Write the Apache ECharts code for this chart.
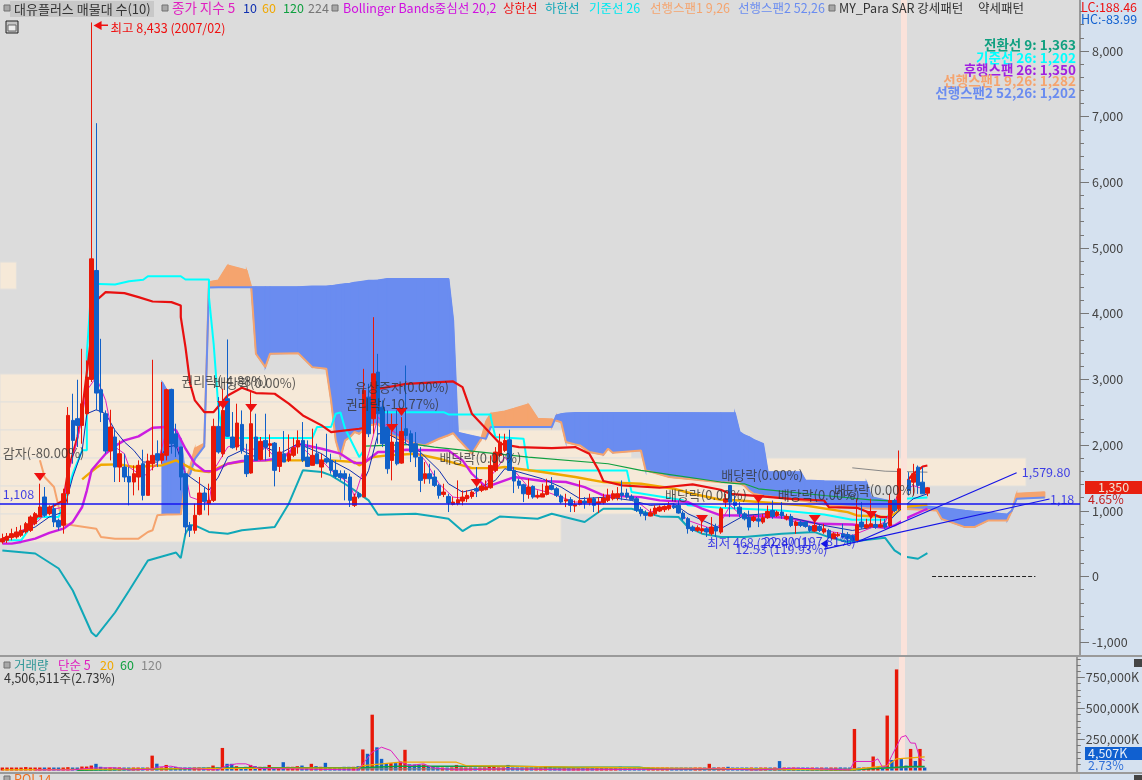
<!DOCTYPE html>
<html><head><meta charset="utf-8">
<style>html,body{margin:0;padding:0;background:#dcdcdc}#c{width:1142px;height:780px}</style>
<script src="https://cdn.jsdelivr.net/npm/echarts@6/dist/echarts.min.js"></script>
</head><body><div id="c"></div>
<script>
const categoryCount = 230;
const categories = Array.from({length: categoryCount}, (_, k) => String(k));

// [open, close, low, high]
const ohlc = [
[526,576,500,652],[551,612,510,662],[592,652,551,728],[602,678,576,754],[627,703,602,779],[678,804,652,830],[703,906,678,931],[804,957,779,982],[906,1058,906,1413],[1210,931,906,1362],
[957,1058,931,1083],[1033,830,754,1109],[855,754,703,881],[779,1261,652,1337],[1261,2452,1109,2579],[2376,2072,1717,2782],[2402,2300,1971,2995],[2300,2630,2021,3466],[2478,3035,2452,3289],[3000,4835,2960,8433],
[4658,2792,2528,6900],[2843,2503,2351,3618],[2478,1910,1870,2528],[1910,2275,1768,2538],[2123,1666,1438,2250],[1666,1869,1438,2072],[1666,1514,1438,1869],[1524,1438,1083,1666],[1438,1565,1235,1692],[1514,1692,1312,1768],
[1717,1235,1159,1930],[1235,1758,1235,1869],[1717,1844,1616,3299],[1869,1768,1666,2072],[1768,1869,1717,2959],[1844,2843,1768,2858],[2848,2021,1869,2858],[2173,1971,1818,2326],[1971,1514,1312,1971],[1565,754,627,1565],
[779,703,602,830],[703,931,652,1109],[946,1271,931,1514],[1271,1144,1007,1362],[1109,1159,931,1413],[1159,2285,1134,2402],[2285,1895,1869,2731],[1869,2528,1818,2858],[2706,2133,2123,3608],[2123,1961,1945,2503],
[1971,2336,1920,2630],[2315,1920,1869,2528],[1844,1565,1514,2021],[1575,2326,1565,2807],[2123,1768,1768,2478],[1783,2057,1768,2123],[2072,1971,1768,2478],[1996,2021,1818,2163],[2031,1616,1372,2047],[1676,1895,1590,1971],
[1869,1742,1742,2214],[1768,1869,1742,2163],[1844,1960,1818,2113],[1971,2072,1869,2224],[2072,1768,1742,2351],[1818,1676,1666,2072],[1692,1844,1692,2250],[1869,1717,1717,2021],[1666,1768,1504,1869],[1793,1742,1717,2173],
[1768,1616,1565,1869],[1616,1524,1489,1768],[1565,1504,1464,1616],[1565,1489,1159,1616],[1514,1159,1058,1565],[1083,1210,1058,1261],[1261,1210,1185,1286],[1210,2832,1210,3161],[2730,2173,2122,2933],[2401,3085,2173,3947],
[3111,2477,2020,3389],[2578,2021,1970,2680],[2274,1640,1564,2528],[1767,2046,1463,2477],[2046,1716,1691,2528],[1726,2208,1716,2426],[2249,2147,2021,3212],[2173,1894,1742,2224],[2021,1818,1666,2198],[1818,1463,1285,1970],
[1488,1564,1412,1742],[1564,1488,1412,1716],[1514,1387,1362,1615],[1387,1235,1184,1412],[1250,1285,1209,1412],[1219,1118,981,1260],[1098,1133,1083,1209],[1108,1169,1083,1463],[1148,1209,1083,1311],[1184,1235,1133,1311],
[1219,1285,1184,1311],[1336,1301,1209,1666],[1311,1377,1285,1412],[1321,1361,1311,1463],[1351,1691,1336,1843],[1615,1894,1589,1970],[1843,2046,1818,2173],[1919,2071,1894,2173],[2081,1615,1615,2234],[1615,1453,1270,1666],
[1453,1387,1336,1488],[1397,1260,1133,1412],[1250,1361,1184,1488],[1372,1209,1184,1387],[1209,1235,1184,1311],[1209,1260,1209,1412],[1250,1377,1235,1488],[1387,1326,1311,1513],[1336,1235,1209,1361],[1225,1133,1108,1250],
[1149,1169,1057,1260],[1169,1083,981,1209],[1072,1093,981,1158],[1098,1158,1083,1463],[1148,1118,1032,1209],[1123,1184,1083,1260],[1184,1083,981,1209],[1108,1133,966,1209],[1123,1194,1098,1260],[1158,1235,1133,1336],
[1184,1260,1159,1311],[1199,1260,1159,1361],[1270,1235,1159,1463],[1270,1209,1184,1336],[1219,1169,1159,1250],[1184,1007,981,1209],[1022,956,915,1057],[966,931,855,1007],[920,971,915,1032],[956,1042,931,1083],
[996,1057,981,1083],[1017,1067,981,1083],[1032,1083,1007,1133],[1077,1047,1027,1118],[1083,966,956,1158],[966,880,855,996],[880,728,652,905],[753,702,677,778],[702,743,677,778],[692,728,652,905],
[728,677,601,753],[652,753,626,905],[763,692,601,804],[676,1031,650,1056],[1132,1183,1056,1259],[1385,1132,904,1385],[1132,1081,1030,1233],[1056,954,904,1132],[954,878,853,980],[904,752,701,1005],
[853,904,828,929],[878,843,752,1157],[828,894,802,954],[894,990,878,1081],[1005,914,878,1157],[929,980,904,1005],[980,929,878,1132],[878,914,853,954],[914,777,752,954],[777,828,650,853],
[828,777,752,853],[828,762,742,843],[762,701,676,777],[691,777,676,853],[762,701,676,787],[676,726,650,802],[701,600,574,726],[574,650,574,676],[620,640,600,676],[650,600,574,802],
[640,574,524,676],[625,549,524,640],[549,787,549,1183],[828,752,726,1132],[742,787,726,878],[762,802,752,1183],[792,752,726,954],[752,787,742,878],[812,752,726,878],[777,1157,752,1259],
[1157,1005,980,1183],[1031,1639,1005,1918],[1674,1411,1233,1690],[1462,1309,1233,1588],[1436,1563,1233,1715],[1664,1385,1258,1690],[1436,1258,1258,1664],[1269,1350,1223,1360]
];

// volume in millions of shares (1 = 1,000K)
const volumes = [
14,14,14,14,14,28,20,14,14,14,14,14,14,14,27,14,14,32,32,40,
54,30,15,15,22,25,15,15,15,15,15,15,120,55,25,45,25,30,20,20,
15,15,15,15,15,40,20,182,54,54,35,25,30,45,35,30,30,45,20,20,
67,30,30,35,40,25,54,35,30,62,13,13,20,30,30,30,35,170,135,450,
187,94,60,60,60,72,167,50,48,48,48,35,30,25,20,20,25,45,25,20,
20,15,15,25,35,35,25,25,45,25,20,20,15,15,15,18,35,30,20,20,
15,15,20,15,15,20,15,15,20,20,25,15,30,20,15,15,15,15,15,15,
15,20,20,15,15,15,15,15,15,15,15,54,25,25,25,30,20,20,15,15,
15,15,20,15,15,15,76,20,15,15,15,15,12,12,12,12,12,12,12,25,
12,12,335,20,15,20,113,27,15,443,85,815,93,40,174,77,174,4.507
];
const volumeColorFlips = [86,186,196,197];

// volume profile rows
const profileEnd  = [3,70,97,134,218,178,119];
const profileLow  = [4375,2656,2230,1803,1377,951,525];
const profileHigh = [4786,3082,2656,2230,1803,1377,951];

// Ichimoku leading spans, read at the same positions
const cloudI = [34,35,36,38,39,40,41,43,44,46,48,52,53,54,56,57,63,66,69,70,71,72,73,74,75,76,78,80,82,88,90,93,95,96,97,100,102,103,104,107,109,112,114,117,118,119,120,122,123,125,128,129,130,136,137,142,153,156,157,158,159,160,162,163,170,171,175,184,185,191,195,199,200,205,207,210,214,215,216,222];
const span1 = [940,945,945,947,1464,1666,1945,2021,4480,4506,4734,4658,4404,3390,3187,3390,3400,3187,3162,2680,2072,1818,2072,2120,2199,2173,2299,2325,2173,2021,1995,2097,2150,2183,2097,1868,2097,2350,2477,2512,2553,2619,2401,2391,2370,2350,2046,2010,1995,1894,1853,1945,1884,1919,1615,1514,1436,1430,1420,1385,1310,1259,1230,1220,1157,1150,1096,1040,1035,1031,1020,1005,878,752,752,853,853,1005,1259,1282];
const span2 = [2959,2832,2173,2100,1500,1560,1790,1980,4400,4404,4404,4404,4404,4404,4404,4404,4404,4414,4414,4420,4430,4440,4450,4455,4470,4480,4500,4506,4530,4530,4530,4530,4530,3900,2188,2140,2110,2097,2274,2274,2274,2274,2274,2274,2451,2470,2480,2487,2487,2487,2487,2487,2487,2487,2487,2487,2486,2486,2197,2150,2121,2080,2019,1588,1588,1461,1450,1436,1208,1120,1080,1050,1046,1000,985,970,944,1005,1183,1202];
const span1Early = [[8,1768],[9,1514],[11,1362],[12,1058],[13,805],[15,779],[20,728],[21,602],[24,576],[29,576],[31,678],[32,703],[33,931]];

const kijun = [[0,551],[4,551],[7,855],[8,906],[12,906],[13,1109],[15,1565],[17,1920],[18,1920],[18,3390],[19,4455],[24,4445],[27,4495],[30,4516],[31,4571],[38,4571],[39,4521],[44,4521],[44,4252],[45,3542],[46,2579],[47,2108],[66,2108],[67,2275],[70,2275],[71,2478],[72,2498],[73,2250],[76,1818],[77,1920],[77,2123],[78,2502],[94,2502],[95,2467],[104,2467],[104,2426],[105,2122],[111,2097],[112,1615],[133,1615],[134,1285],[145,1159],[146,1083],[153,1047],[166,1005],[175,944],[181,863],[188,863],[190,1056],[192,1183],[197,1202]];

const bbMiddle = [[0,500],[2,500],[4,526],[7,576],[10,663],[13,728],[15,830],[17,1058],[18,1312],[19,1616],[22,1869],[24,1986],[26,2072],[29,2133],[32,2265],[35,2275],[37,2224],[39,1945],[41,1717],[43,1606],[45,1600],[48,1717],[51,1758],[56,1768],[60,1818],[63,2021],[68,1945],[72,1869],[75,1727],[77,1727],[80,1895],[82,1894],[86,1930],[95,1919],[98,1767],[100,1564],[103,1361],[106,1438],[109,1514],[115,1453],[120,1438],[124,1361],[128,1235],[136,1209],[140,1159],[146,1133],[149,1032],[153,931],[158,929],[167,894],[174,802],[181,792],[188,742],[190,777],[193,904],[197,1031]];
const bbUpper = [[0,576],[4,652],[8,957],[13,1159],[14,1616],[16,2123],[17,2528],[19,3694],[20,4201],[22,4328],[26,4313],[29,4252],[32,4186],[36,4176],[38,4125],[38,3948],[39,3492],[40,2934],[41,2680],[43,2503],[45,2503],[48,2756],[51,2873],[54,2792],[58,2782],[61,2630],[64,2452],[68,2300],[70,2199],[76,2249],[77,2260],[79,2842],[86,2933],[96,2969],[98,2882],[100,2477],[103,2249],[106,2021],[110,1970],[117,1955],[122,1970],[125,1868],[127,1615],[128,1453],[132,1387],[140,1351],[147,1402],[153,1320],[155,1259],[161,1223],[168,1183],[175,1157],[176,1056],[182,1046],[187,904],[189,904],[190,1056],[191,1309],[194,1563],[196,1674],[197,1690]];
const bbLower = [[0,396],[7,350],[12,122],[15,-213],[19,-852],[20,-913],[24,-548],[27,-213],[31,244],[37,365],[38,280],[39,652],[40,779],[41,779],[44,678],[48,652],[51,703],[58,754],[61,1109],[64,1616],[68,1590],[70,1540],[74,1362],[78,1159],[80,941],[88,956],[92,915],[95,880],[98,692],[100,778],[103,794],[106,915],[114,880],[117,956],[124,829],[128,1032],[134,1032],[140,915],[144,905],[146,753],[149,652],[153,601],[158,600],[166,650],[173,676],[176,600],[180,524],[188,589],[190,397],[192,306],[195,270],[197,356]];

const ma5 = [[0,551],[7,804],[10,1007],[13,1058],[14,1565],[16,2072],[18,2832],[20,3035],[22,2680],[24,1971],[26,1869],[27,1666],[30,1514],[33,1717],[35,2224],[37,2072],[39,1565],[40,1210],[44,1109],[45,1616],[48,1971],[50,2021],[52,1920],[56,1971],[58,1818],[61,1869],[63,2021],[66,1818],[68,1768],[70,1616],[74,1413],[75,1210],[78,1869],[80,2426],[82,2274],[86,2071],[90,1767],[93,1412],[96,1209],[99,1184],[102,1336],[105,1615],[107,1818],[109,1615],[112,1361],[116,1285],[119,1209],[122,1133],[127,1133],[131,1235],[134,1209],[138,981],[143,1083],[146,854],[152,702],[155,1081],[158,894],[163,954],[169,828],[175,701],[181,625],[188,828],[191,1258],[194,1385],[197,1309]];
const ma10 = [[0,551],[7,754],[10,906],[13,982],[15,1514],[17,1920],[18,2478],[20,2538],[22,2478],[24,2224],[26,2047],[28,1920],[30,1742],[33,1742],[35,1971],[37,1996],[39,1565],[42,1413],[44,1312],[46,1514],[48,1818],[51,1920],[54,1818],[56,1971],[59,1869],[63,2021],[68,1869],[70,1768],[74,1616],[77,1464],[78,1616],[80,2173],[82,2173],[86,2021],[89,1894],[93,1615],[95,1412],[98,1285],[101,1336],[105,1463],[107,1640],[110,1590],[115,1488],[119,1361],[123,1184],[129,1209],[134,1158],[138,1083],[143,1108],[146,956],[153,728],[158,929],[164,965],[169,878],[175,777],[181,701],[188,777],[191,1005],[194,1183],[197,1259]];
const ma60 = [[17,1479],[18,1540],[20,1656],[21,1702],[25,1707],[28,1666],[34,1692],[37,1768],[39,1692],[41,1616],[44,1590],[48,1717],[53,1768],[63,1768],[70,1768],[75,1742],[76,1692],[79,1818],[82,1843],[88,1868],[93,1793],[100,1650],[105,1650],[107,1666],[115,1590],[122,1514],[128,1437],[136,1412],[143,1336],[147,1260],[153,1169],[157,1157],[171,1081],[180,980],[182,929],[189,904],[192,1056],[197,1096]];
const ma120 = [[77,1985],[88,2010],[92,1970],[112,1818],[129,1716],[136,1615],[153,1438],[157,1411],[158,1411],[161,1335],[175,1233],[185,1167],[190,1147]];
const ma224 = [[181,1654],[188,1603],[197,1588]];

const volMa5 = [[7,5],[15,5],[19,20],[24,22],[27,5],[32,10],[33,27],[36,35],[38,19],[46,5],[48,40],[50,54],[52,54],[54,27],[55,16],[76,5],[77,54],[79,148],[81,188],[83,161],[85,67],[87,40],[90,54],[92,21],[97,5],[108,13],[121,5],[152,13],[161,5],[166,13],[169,19],[181,5],[182,73],[186,73],[187,94],[188,27],[189,40],[190,121],[192,269],[193,282],[194,222],[195,220],[196,94],[197,81]];
const volMa20 = [[0,5],[32,13],[76,22],[77,40],[85,67],[97,67],[99,40],[122,27],[181,5],[189,40],[191,94],[197,110]];
const volMa60 = [[16,3],[52,22],[76,22],[85,35],[108,35],[121,27],[136,27],[139,14],[181,5],[194,32],[197,32]];
const volMa120 = [[76,13],[181,13],[197,27]];

const trendA = [[182,525],[216,1580]];
const trendB = [[175,418],[223,1180]];
const zeroDash = [[198,0],[220,0]];
const referencePrice = 1108;
const highlightIndex = 192;

const eventLabels = ['감자(-80.00%)','권리락(-4.88%)','배당락(0.00%)','유상증자(0.00%)','권리락(-10.77%)','배당락(0.00%)','배당락(0.00%)','배당락(0.00%)','배당락(0.00%)','배당락(0.00%)'];
const eventLabelI = [0,38,45,75,73,93,153,141,165,177];
const eventLabelP = [1880,2975,2945,2884,2625,1803,1545,1240,1240,1316];
const eventArrowI = [8,47,53,85,83,101,161,149,173,185];
const eventArrowP = [1514,2610,2565,2503,2260,1423,1180,875,875,936];

const blueLabels = ['최저 468 (2024/01)','22.80 (197.81%)','12.53 (119.93%)','1,108','1,579.80','1,18'];
const blueLabelI = [150,162,156,0,217,223];
const blueLabelP = [510,541,419,1250,1580,1180];

const priceTicks = [-1000,0,1000,2000,3000,4000,5000,6000,7000,8000];
const priceMinorTicks = []; for (let v=-1200; v<=8600; v+=200) priceMinorTicks.push(v);
const volumeTicks = [250,500,750];
const volumeMinorTicks = [50,100,150,200,300,350,400,450,550,600,650,700,800,850,900];

const UP='#e81808', DOWN='#1060c8';
const FONT='"Noto Sans CJK KR","Noto Sans",sans-serif';

function line(data,color,width,z,grid,extra){
  return Object.assign({type:'line',xAxisIndex:grid?1:0,yAxisIndex:grid?2:0,data,symbol:'none',silent:true,z,
    lineStyle:{color,width},animation:false},extra||{});
}

const bandSeries = {
  type:'custom',xAxisIndex:0,yAxisIndex:0,z:1,silent:true,animation:false,
  encode:{x:0,y:1},
  data:profileEnd.map((e,k)=>[e,profileLow[k],profileHigh[k]]),
  renderItem(params,api){
    const a=api.coord([api.value(0),api.value(1)]), b=api.coord([api.value(0),api.value(2)]);
    const left=params.coordSys.x;
    return {type:'rect',shape:{x:left,y:b[1],width:a[0]-left,height:a[1]-b[1]},
      style:{fill:'#f6e9d8',stroke:'#e2e0dc',lineWidth:1}};
  },
  markLine:{silent:true,symbol:'none',label:{show:false},animation:false,
    lineStyle:{color:'#fbe2da',width:6,type:'solid'},data:[{xAxis:highlightIndex}]}
};

const cloudSeries = {
  type:'custom',xAxisIndex:0,yAxisIndex:0,z:2,silent:true,animation:false,
  encode:{x:0,y:1},
  data:cloudI.slice(0,-1).map((c,k)=>[c,span1[k],span2[k],cloudI[k+1],span1[k+1],span2[k+1]]),
  renderItem(params,api){
    const x0=api.value(0),a0=api.value(1),b0=api.value(2),x1=api.value(3),a1=api.value(4),b1=api.value(5);
    const pts=[api.coord([x0,a0]),api.coord([x1,a1]),api.coord([x1,b1]),api.coord([x0,b0])];
    const col=(a0+a1>=b0+b1)?'#f5a46e':'#6a8cf0';
    return {type:'polygon',shape:{points:pts},style:{fill:col,stroke:col,lineWidth:1.2}};
  }
};

const labelScatter=(texts,is,ps,color,size)=>({
  type:'scatter',xAxisIndex:0,yAxisIndex:0,z:8,silent:true,animation:false,symbolSize:1,
  itemStyle:{color:'rgba(0,0,0,0)'},
  data:texts.map((t,k)=>({name:t,value:[is[k],ps[k]]})),
  label:{show:true,position:'right',distance:0,formatter:p=>p.name,color,fontFamily:FONT,fontSize:size}
});

const series=[
  bandSeries,cloudSeries,
  line(span1Early.concat(cloudI.map((c,k)=>[c,span1[k]])),'#f5a46e',2,3,0),
  line(cloudI.map((c,k)=>[c,span2[k]]),'#6a8cf0',2,3,0),
  line(bbLower,'#10a8b8',2,3,0),
  line(kijun,'#00ffff',2,3,0),
  line(ma224,'#888888',1,3,0),
  line(ma120,'#10a040',1.2,3,0),
  line(ma60,'#f0a800',2.4,3,0),
  line(bbUpper,'#e81010',2.2,3,0),
  line(bbMiddle,'#cc1ee0',2.4,3,0),
  line(ma10,'#1030b0',1,3.5,0),
  line(ma5,'#e020c0',1,3.5,0),
  {type:'candlestick',xAxisIndex:0,yAxisIndex:0,z:4,silent:true,animation:false,barWidth:4,data:ohlc,
    itemStyle:{color:UP,color0:DOWN,borderColor:UP,borderColor0:DOWN,borderWidth:1}},
  line(trendA,'#1414e6',1.2,5,0),
  line(trendB,'#1414e6',1.2,5,0,{
    markLine:{silent:true,symbol:'none',label:{show:false},animation:false,
      lineStyle:{color:'#1414f0',width:1.5,type:'solid'},data:[{yAxis:referencePrice}]}}),
  line(zeroDash,'#222222',1,5,0,{lineStyle:{color:'#222',width:1,type:'dashed'}}),
  {type:'scatter',xAxisIndex:0,yAxisIndex:0,z:7,silent:true,animation:false,
    symbol:'triangle',symbolRotate:180,symbolSize:[12,8],itemStyle:{color:'#ee1010',opacity:1},
    data:eventArrowI.map((a,k)=>[a,eventArrowP[k]])},
  labelScatter(eventLabels,eventLabelI,eventLabelP,'#333333',13),
  labelScatter(blueLabels,blueLabelI,blueLabelP,'#1414e6',12.5),
  {type:'scatter',xAxisIndex:0,yAxisIndex:0,z:7,silent:true,animation:false,
    symbol:'triangle',symbolRotate:90,symbolSize:[9,8],symbolOffset:[6,3],itemStyle:{color:'#ee1010',opacity:1},
    data:[{name:'최고 8,433 (2007/02)',value:[19,8433]}],
    label:{show:true,position:'right',distance:9,offset:[0,3],formatter:p=>p.name,color:'#ee1010',fontFamily:FONT,fontSize:12.5}},
  {type:'scatter',xAxisIndex:0,yAxisIndex:0,z:7,silent:true,animation:false,
    symbol:'triangle',symbolRotate:90,symbolSize:[9,7],itemStyle:{color:'#1414e6',opacity:1},data:[[175,500]]},
  {type:'bar',xAxisIndex:1,yAxisIndex:2,z:3,silent:true,animation:false,barWidth:3.4,barMinHeight:3,
    data:volumes.map((v,k)=>{
      let up=ohlc[k][1]>=ohlc[k][0];
      if(volumeColorFlips.includes(k)) up=!up;
      return {value:v,itemStyle:{color:up?UP:DOWN}};
    }),
    markLine:{silent:true,symbol:'none',label:{show:false},animation:false,z:1,
      lineStyle:{color:'#fbe2da',width:6,type:'solid'},data:[{xAxis:highlightIndex}]}},
  line(volMa120,'#888888',1.2,4,1),
  line(volMa60,'#10a040',1.5,4,1),
  line(volMa20,'#f0a800',1.2,4,1),
  line(volMa5,'#e020c0',1,4,1)
];

const fmt=v=>v.toLocaleString('en-US');
const yAxisBase=(grid,min,max,ticks,len,labelOpts)=>({
  type:'value',gridIndex:grid,position:'right',min,max,scale:true,splitLine:{show:false},
  axisLine:{show:true,onZero:false,lineStyle:{color:'#999999',width:2}},
  axisTick:{show:true,length:len,customValues:ticks,lineStyle:{color:'#777777',width:1}},
  axisLabel:labelOpts
});
const lab={fontFamily:FONT,fontSize:12.5,color:'#444444'};
const yAxis=[
  yAxisBase(0,-1210,8775,priceTicks,9,Object.assign({show:true,margin:12,customValues:priceTicks,formatter:fmt},lab)),
  yAxisBase(0,-1210,8775,priceMinorTicks,4,{show:false}),
  yAxisBase(1,-20,915,volumeTicks,8,Object.assign({show:true,margin:9,customValues:volumeTicks,formatter:v=>fmt(v)+',000K'},lab)),
  yAxisBase(1,-20,915,volumeMinorTicks,4,{show:false})
];

const T=(x,y,text,fill,opt)=>({type:'text',z:100,silent:true,x,y,style:Object.assign({text,fill,font:'12.5px '+FONT,textAlign:'left',textVerticalAlign:'middle'},opt||{})});
const R=(x,y,w,h,fill,z,stroke)=>({type:'rect',z:z==null?-1:z,silent:true,shape:{x,y,width:w,height:h},style:{fill,stroke:stroke||null,lineWidth:1}});
const box=(x,y)=>R(x,y,6,6,'#a8a8a8',100,'#707070');
const bold='bold 13.5px '+FONT;
const graphic=[
  R(1080,0,62,780,'#d5e1ef',-1),
  R(0,655,1080,2,'#9a9a9a',50),R(0,772,1080,2,'#9a9a9a',50),
  R(1080,655,62,2,'#9a9a9a',50),R(1080,772,62,2,'#9a9a9a',50),
  box(4,5),R(10,1,144,16,'#c8c8c8',90),T(14,9,'대유플러스 매물대 수(10)','#333333',{font:'13px '+FONT}),
  box(162,5),T(172,8,'종가 지수 5','#e020c0',{font:'13.5px '+FONT}),T(243,8,'10','#1030b0'),T(262,8,'60','#f0a800'),T(283,8,'120','#10a040'),T(308,8,'224','#777777'),
  box(332,5),T(343,8,'Bollinger Bands중심선 20,2','#d010e0'),T(503,8,'상한선','#ee1010'),T(545,8,'하한선','#10a8b8'),
  T(589,8,'기준선 26','#00e8f0'),T(650,8,'선행스팬1 9,26','#f5a46e'),T(738,8,'선행스팬2 52,26','#6a8cf0'),
  box(829,5),T(839,8,'MY_Para SAR 강세패턴','#333333'),T(978,8,'약세패턴','#333333'),
  R(6,21,12,12,'#c4c4c4',90,'#222222'),R(8,25,8,6,'#eeeeee',91,'#666666'),
  R(100,24.5,8,1.5,'#ee1010',90),
  T(1076,45,'전환선 9: 1,363','#10a080',{textAlign:'right',font:bold}),
  T(1076,58,'기준선 26: 1,202','#00ffff',{textAlign:'right',font:bold}),
  T(1076,70,'후행스팬 26: 1,350','#a020e0',{textAlign:'right',font:bold}),
  T(1076,81,'선행스팬1 9,26: 1,282','#f5a46e',{textAlign:'right',font:bold}),
  T(1076,93,'선행스팬2 52,26: 1,202','#6a8cf0',{textAlign:'right',font:bold}),
  T(1081,7,'LC:188.46','#ee1010'),T(1081,19,'HC:-83.99','#1060d0'),
  R(1085,481,57,13,'#e82010',90),T(1098,487.5,'1,350','#f0e0d0'),T(1088,499,'4.65%','#c02020'),
  box(4,662),T(14,665,'거래량','#309898'),T(58,665,'단순 5','#e020c0'),T(100,665,'20','#f0a800'),T(120,665,'60','#10a040'),T(141,665,'120','#888888'),
  T(4,678,'4,506,511주(2.73%)','#333333'),
  R(1085,747,57,13,'#1060d0',90),T(1088,753.5,'4,507K','#e8eef8'),T(1088,765,'2.73%','#3070d8'),
  R(1134,659,8,8,'#444444',90),R(1134,775,8,5,'#444444',90),
  box(4,776),T(14,779,'ROI 14','#f07020')
];

const chart=echarts.init(document.getElementById('c'),null,{renderer:'canvas',width:1142,height:780});
chart.setOption({
  animation:false,backgroundColor:'#dcdcdc',
  grid:[{left:0,top:0,width:1080,height:656},{left:0,top:657,width:1080,height:116}],
  xAxis:[
    {type:'category',gridIndex:0,data:categories,boundaryGap:true,show:false},
    {type:'category',gridIndex:1,data:categories,boundaryGap:true,show:false}
  ],
  yAxis,series,graphic
});
</script></body></html>
